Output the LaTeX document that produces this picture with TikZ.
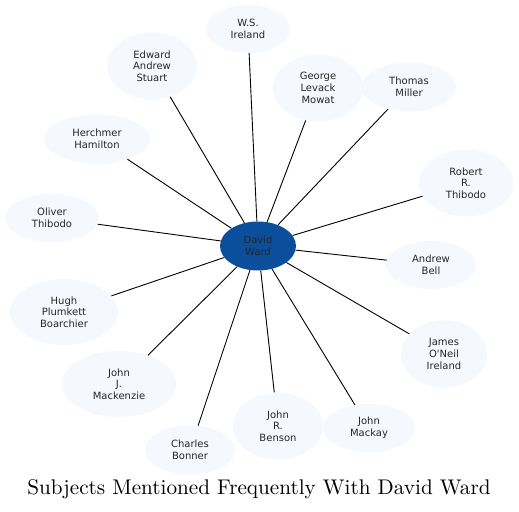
\documentclass[tikz,border=0pt]{standalone}
\usepackage{fontspec}
\newfontfamily\nodefont{DejaVu Sans}
\usetikzlibrary{shapes.geometric}
\definecolor{outerfill}{HTML}{F5F8FE}
\definecolor{centerfill}{HTML}{0B4F9C}
\begin{document}
\begin{tikzpicture}[x=1pt,y=-1pt,
  person/.style={ellipse,fill=outerfill,inner sep=0pt,align=center,
    font=\nodefont\fontsize{10}{11.7}\selectfont,text=black!85},
  hub/.style={ellipse,fill=centerfill,inner sep=0pt,align=center,
    font=\nodefont\fontsize{10}{11.7}\selectfont,text=black!85},
  link/.style={draw=black,line width=0.9pt}]
\useasboundingbox (0,0) rectangle (519,511);
\node[hub,minimum width=76pt,minimum height=49pt] (dw) at (258,246) {David\\Ward};
\node[person,minimum width=84pt,minimum height=48pt] (wsi) at (248,29) {W.S.\\Ireland};
\node[person,minimum width=90pt,minimum height=67pt] (eas) at (152,66) {Edward\\Andrew\\Stuart};
\node[person,minimum width=106pt,minimum height=49pt] (hh) at (97,139) {Herchmer\\Hamilton};
\node[person,minimum width=90pt,minimum height=67pt] (glm) at (318,88) {George\\Levack\\Mowat};
\node[person,minimum width=94pt,minimum height=49pt] (tm) at (409,87) {Thomas\\Miller};
\node[person,minimum width=94pt,minimum height=67pt] (rrt) at (466,183) {Robert\\R.\\Thibodo};
\node[person,minimum width=90pt,minimum height=48pt] (ab) at (431,265) {Andrew\\Bell};
\node[person,minimum width=86pt,minimum height=67pt] (joi) at (444,354) {James\\O'Neil\\Ireland};
\node[person,minimum width=92pt,minimum height=48pt] (jm) at (369,428) {John\\Mackay};
\node[person,minimum width=90pt,minimum height=67pt] (jrb) at (278,426) {John\\R.\\Benson};
\node[person,minimum width=90pt,minimum height=49pt] (cb) at (190,450) {Charles\\Bonner};
\node[person,minimum width=114pt,minimum height=66pt] (jjm) at (119,384) {John\\J.\\Mackenzie};
\node[person,minimum width=108pt,minimum height=66pt] (hpb) at (64,312) {Hugh\\Plumkett\\Boarchier};
\node[person,minimum width=94pt,minimum height=48pt] (ot) at (52,218) {Oliver\\Thibodo};
\node[inner sep=0pt] (title) at (259,489) {\scalebox{2.12}{\fontsize{10}{12}\selectfont Subjects Mentioned Frequently With David Ward}};
\foreach \n in {wsi,eas,hh,glm,tm,rrt,ab,joi,jm,jrb,cb,jjm,hpb,ot}
  \draw[link] (dw) -- (\n);
\end{tikzpicture}
\end{document}
